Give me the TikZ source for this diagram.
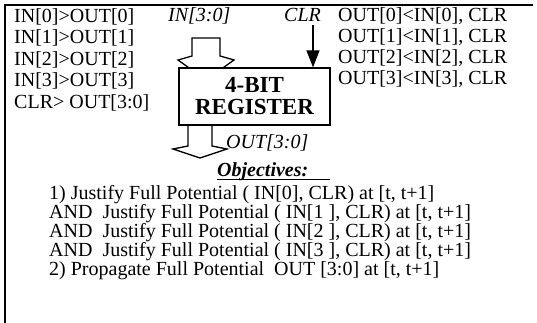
\documentclass[tikz,border=0pt]{standalone}
\usepackage{fontspec}
\setmainfont{Liberation Serif}
\usetikzlibrary{arrows.meta}
\tikzset{
  txt/.style={anchor=base west, inner sep=0pt, font=\fontsize{20}{21}\selectfont},
  itxt/.style={txt, font=\fontsize{20}{21}\selectfont\itshape},
  frame/.style={line width=1.3pt},
  blk/.style={line width=1.3pt, fill=white},
}
\begin{document}
\begin{tikzpicture}[x=1pt,y=-1pt]
\useasboundingbox (0,0) rectangle (537,323);
% frame
\draw[frame] (533,5) -- (5,5) -- (5,323);
% left column
\node[txt] (l0) at (14,22.5) {IN[0]>OUT[0]};
\node[txt] (l1) at (14,44) {IN[1]>OUT[1]};
\node[txt] (l2) at (14,65.5) {IN[2]>OUT[2]};
\node[txt] (l3) at (14,87) {IN[3]>OUT[3]};
\node[txt] (l4) at (14,108.5) {CLR> OUT[3:0]};
% right column
\node[txt] (r0) at (338,22) {OUT[0]<IN[0], CLR};
\node[txt] (r1) at (338,43) {OUT[1]<IN[1], CLR};
\node[txt] (r2) at (338,64) {OUT[2]<IN[2], CLR};
\node[txt] (r3) at (338,85) {OUT[3]<IN[3], CLR};
% labels
\node[itxt] (inlab) at (168,22) {IN[3:0]};
\node[itxt] (clrlab) at (284,22) {CLR};
\node[itxt] (outlab) at (226,148.5) {OUT[3:0]};
% hollow arrows
\draw[blk] (192,38) -- (220,38) -- (220,56) -- (234,60) -- (206,80) -- (178,60) -- (192,56) -- cycle;
\draw[blk] (188,120) -- (188,146) -- (173,149) -- (200,158) -- (227,149) -- (212,146) -- (212,120) -- cycle;
% register
\node[draw, line width=1.3pt, fill=white, minimum width=151pt, minimum height=57pt,
      inner sep=0pt, align=center, font=\fontsize{23}{22}\selectfont\bfseries] (reg) at (254.5,96.5) {4-BIT\\REGISTER};
% CLR arrow
\coordinate (clrtop) at (313,25);
\draw[line width=1.3pt, -{Triangle[width=13pt,length=17pt]}] (clrtop) -- (reg.north -| clrtop);
% objectives
\node[txt, font=\fontsize{20}{21}\selectfont\bfseries\itshape] (obj) at (217,176.5) {Objectives:};
\coordinate (ulend) at (330,0);
\draw[line width=1pt] ([yshift=-3pt]obj.base west) -- ([yshift=-3pt]obj.base west -| ulend);
\node[txt] (o1) at (49,199) {1) Justify Full Potential ( IN[0], CLR) at [t, t+1]};
\node[txt] (o2) at (49,218) {AND\ \ Justify Full Potential ( IN[1 ], CLR) at [t, t+1]};
\node[txt] (o3) at (49,237) {AND\ \ Justify Full Potential ( IN[2 ], CLR) at [t, t+1]};
\node[txt] (o4) at (49,256) {AND\ \ Justify Full Potential ( IN[3 ], CLR) at [t, t+1]};
\node[txt] (o5) at (49,275) {2) Propagate Full Potential\ \ OUT [3:0] at [t, t+1]};
\end{tikzpicture}
\end{document}
